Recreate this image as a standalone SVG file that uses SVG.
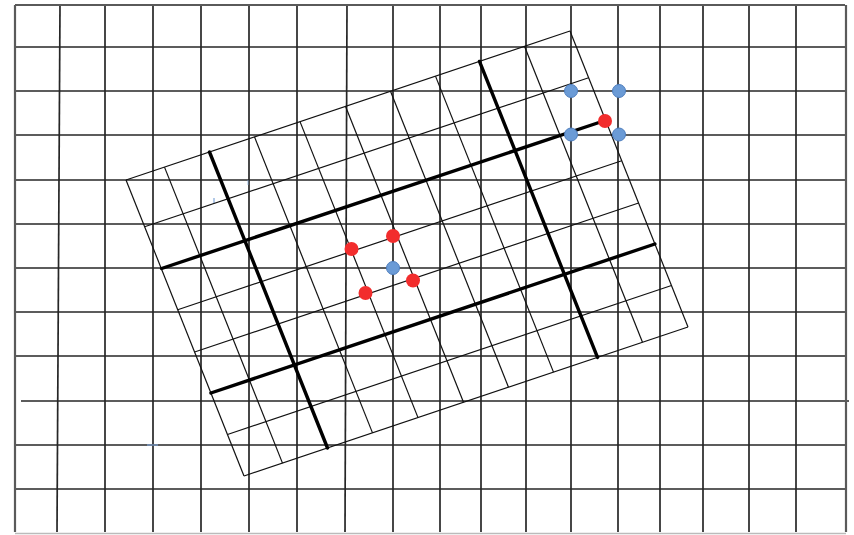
<svg xmlns="http://www.w3.org/2000/svg" width="854" height="535" viewBox="0 0 854 535">
<defs>
<style>
.bg{stroke:#262626;stroke-width:1.7;fill:none}
.border{stroke:#5a5a5a;stroke-width:2.2;fill:none}
.rt{stroke:#111;stroke-width:1.2;fill:none}
.thick{stroke:#000;stroke-width:3.4;fill:none;stroke-linecap:round}
.red{fill:#f22d2d}
.blue{fill:#6b9bd6;stroke:#4d7dbd;stroke-width:1}
.speck{stroke:#7fa6d9;stroke-width:1.2;fill:none}
</style>
</defs>
<rect width="854" height="535" fill="#fff"/>
<g id="background-grid">
<line class="bg" x1="60" y1="5" x2="57" y2="532"/>
<line class="bg" x1="105" y1="5" x2="105" y2="532"/>
<line class="bg" x1="153" y1="5" x2="153" y2="532"/>
<line class="bg" x1="201" y1="5" x2="201" y2="532"/>
<line class="bg" x1="249" y1="5" x2="249" y2="532"/>
<line class="bg" x1="297" y1="5" x2="297" y2="532"/>
<line class="bg" x1="347" y1="5" x2="345" y2="532"/>
<line class="bg" x1="393" y1="5" x2="393" y2="532"/>
<line class="bg" x1="440" y1="5" x2="440" y2="532"/>
<line class="bg" x1="481" y1="5" x2="481" y2="532"/>
<line class="bg" x1="526" y1="5" x2="526" y2="532"/>
<line class="bg" x1="571" y1="5" x2="571" y2="532"/>
<line class="bg" x1="618" y1="5" x2="618" y2="532"/>
<line class="bg" x1="660" y1="5" x2="660" y2="532"/>
<line class="bg" x1="703" y1="5" x2="703" y2="532"/>
<line class="bg" x1="749" y1="5" x2="749" y2="532"/>
<line class="bg" x1="796" y1="5" x2="796" y2="532"/>
<line class="bg" x1="15" y1="47" x2="845" y2="47"/>
<line class="bg" x1="15" y1="91" x2="845" y2="91"/>
<line class="bg" x1="15" y1="135" x2="845" y2="135"/>
<line class="bg" x1="15" y1="180" x2="845" y2="180"/>
<line class="bg" x1="15" y1="224" x2="845" y2="224"/>
<line class="bg" x1="15" y1="268" x2="845" y2="268"/>
<line class="bg" x1="15" y1="312" x2="845" y2="312"/>
<line class="bg" x1="15" y1="356" x2="845" y2="356"/>
<line class="bg" x1="21" y1="401" x2="849" y2="401"/>
<line class="bg" x1="15" y1="445" x2="845" y2="445"/>
<line class="bg" x1="15" y1="489" x2="845" y2="489"/>
<line class="border" x1="15" y1="5" x2="845" y2="5"/>
<line class="border" x1="15" y1="5" x2="15" y2="532"/>
<line class="border" x1="846" y1="5" x2="846" y2="532"/>
<line x1="15" y1="533.5" x2="846" y2="533.5" stroke="#bbb" stroke-width="1.5"/>
</g>
<g id="specks">
<line class="speck" x1="214" y1="198" x2="214" y2="203"/>
<line class="speck" x1="248" y1="180" x2="248" y2="185" opacity="0.6"/>
<line class="speck" x1="147" y1="445" x2="158" y2="445"/>
</g>
<g id="rotated-grid">
<line class="rt" x1="126" y1="180" x2="244" y2="476"/>
<line class="rt" x1="164.5" y1="167.1" x2="282.5" y2="463.1"/>
<line class="rt" x1="254.5" y1="136.9" x2="372.5" y2="432.9"/>
<line class="rt" x1="300" y1="121.6" x2="418" y2="417.6"/>
<line class="rt" x1="345.5" y1="106.3" x2="463.5" y2="402.3"/>
<line class="rt" x1="390.5" y1="91.2" x2="508.5" y2="387.2"/>
<line class="rt" x1="435.5" y1="76.1" x2="553.5" y2="372.1"/>
<line class="rt" x1="524.5" y1="46.3" x2="642.5" y2="342.3"/>
<line class="rt" x1="570" y1="31" x2="688" y2="327"/>
<line class="rt" x1="126" y1="180" x2="570" y2="31"/>
<line class="rt" x1="144.6" y1="226.75" x2="588.6" y2="77.75"/>
<line class="rt" x1="177.7" y1="309.75" x2="621.7" y2="160.75"/>
<line class="rt" x1="194.6" y1="352" x2="638.6" y2="203"/>
<line class="rt" x1="227.5" y1="434.5" x2="671.5" y2="285.5"/>
<line class="rt" x1="244" y1="476" x2="688" y2="327"/>
</g>
<g id="thick-lines">
<line class="thick" x1="209.5" y1="152" x2="327.5" y2="448"/>
<line class="thick" x1="479.5" y1="61.4" x2="597.5" y2="357.4"/>
<line class="thick" x1="161.6" y1="268.5" x2="605" y2="120.5"/>
<line class="thick" x1="210.9" y1="393" x2="654.9" y2="244"/>
</g>
<g id="blue-dots">
<g id="blue-1"><circle class="blue" cx="571" cy="91" r="6.5"/></g>
<g id="blue-2"><circle class="blue" cx="619" cy="91" r="6.5"/></g>
<g id="blue-3"><circle class="blue" cx="571" cy="134.5" r="6.5"/></g>
<g id="blue-4"><circle class="blue" cx="619" cy="134.5" r="6.5"/></g>
<g id="blue-5"><circle class="blue" cx="393" cy="268" r="6.5"/></g>
</g>
<g id="red-dots">
<g id="red-1"><circle class="red" cx="605" cy="121" r="7"/></g>
<g id="red-2"><circle class="red" cx="351.5" cy="249" r="7"/></g>
<g id="red-3"><circle class="red" cx="393" cy="236" r="7"/></g>
<g id="red-4"><circle class="red" cx="365.5" cy="293" r="7"/></g>
<g id="red-5"><circle class="red" cx="413" cy="280.5" r="7"/></g>
</g>
</svg>
